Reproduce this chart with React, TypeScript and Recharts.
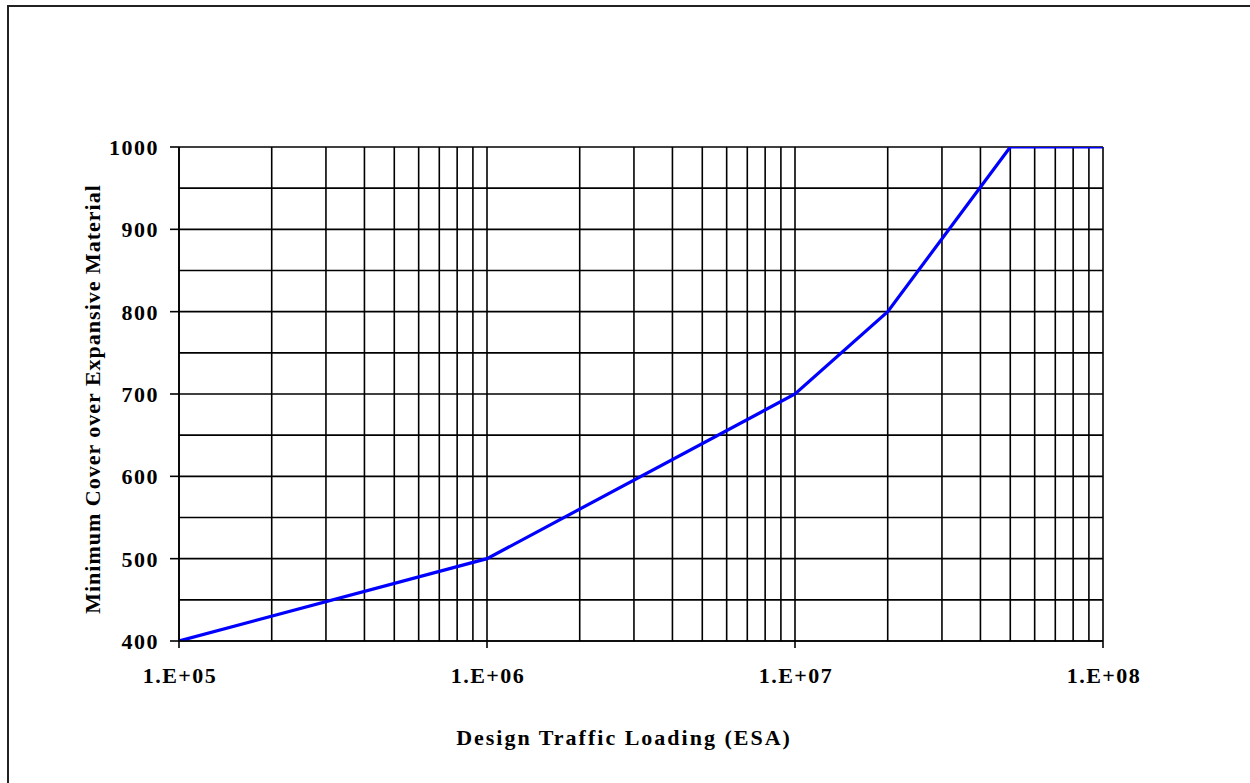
import React from 'react';
import { ComposedChart, Line, XAxis, YAxis, CartesianGrid, Label } from 'recharts';

// Design traffic loading (ESA) break points and the required minimum cover (mm)
const esaValues = [1e5, 1e6, 1e7, 2e7, 5e7, 1e8];
const coverValues = [400, 500, 700, 800, 1000, 1000];

// Log grid: 1..9 x each decade, labelled only at the decades
const xGridTicks = [
  1e5, 2e5, 3e5, 4e5, 5e5, 6e5, 7e5, 8e5, 9e5,
  1e6, 2e6, 3e6, 4e6, 5e6, 6e6, 7e6, 8e6, 9e6,
  1e7, 2e7, 3e7, 4e7, 5e7, 6e7, 7e7, 8e7, 9e7,
  1e8,
];
const xDecadeLabels: Record<number, string> = {
  100000: '1.E+05',
  1000000: '1.E+06',
  10000000: '1.E+07',
  100000000: '1.E+08',
};
const yGridTicks = [400, 450, 500, 550, 600, 650, 700, 750, 800, 850, 900, 950, 1000];
const yLabelledTicks = [400, 500, 600, 700, 800, 900, 1000];

const data = esaValues.map((esa, i) => ({ esa, cover: coverValues[i] }));

const FONT = '"Liberation Serif", "Times New Roman", serif';

const XTick = (props: any) => {
  const { x, y, payload } = props;
  const label = xDecadeLabels[Math.round(payload.value)];
  if (!label) return <g />;
  return (
    <g>
      <line x1={x} y1={y} x2={x} y2={y + 7} stroke="#000" strokeWidth={1.6} />
      <text
        x={x + 1}
        y={y + 42}
        textAnchor="middle"
        fontFamily={FONT}
        fontWeight="bold"
        fontSize={22}
        letterSpacing={1.5}
        fill="#000"
      >
        {label}
      </text>
    </g>
  );
};

const YTick = (props: any) => {
  const { x, y, payload } = props;
  if (!yLabelledTicks.includes(payload.value)) return <g />;
  return (
    <g>
      <line x1={x - 9} y1={y} x2={x} y2={y} stroke="#000" strokeWidth={1.6} />
      <text
        x={x - 20}
        y={y + 8}
        textAnchor="end"
        fontFamily={FONT}
        fontWeight="bold"
        fontSize={22}
        letterSpacing={1.5}
        fill="#000"
      >
        {payload.value}
      </text>
    </g>
  );
};

export default function App() {
  return (
    <div
      style={{
        position: 'fixed',
        left: 0,
        top: 0,
        width: 1250,
        height: 783,
        background: '#fff',
        overflow: 'hidden',
      }}
    >
      <div
        style={{
          position: 'absolute',
          left: 7,
          top: 5,
          width: 1260,
          height: 800,
          borderLeft: '2px solid #222',
          borderTop: '2px solid #222',
        }}
      />
      <ComposedChart
        width={1250}
        height={783}
        data={data}
        margin={{ top: 147, right: 147, bottom: 82, left: 79 }}
        style={{ position: 'absolute', left: 0, top: 0 }}
      >
        <CartesianGrid stroke="#000" strokeWidth={1.6} />
        <XAxis
          dataKey="esa"
          type="number"
          scale="log"
          domain={[1e5, 1e8]}
          ticks={xGridTicks}
          interval={0}
          allowDataOverflow
          tickSize={0}
          tickMargin={0}
          tickLine={false}
          axisLine={{ stroke: '#000', strokeWidth: 1.6 }}
          tick={<XTick />}
          height={60}
        >
          <Label
            content={(p: any) => {
              const vb = p.viewBox;
              return (
                <text
                  x={vb.x + vb.width / 2 - 17}
                  y={vb.y + 104}
                  textAnchor="middle"
                  fontFamily={FONT}
                  fontWeight="bold"
                  fontSize={22}
                  letterSpacing={2}
                  fill="#000"
                >
                  Design Traffic Loading (ESA)
                </text>
              );
            }}
          />
        </XAxis>
        <YAxis
          type="number"
          domain={[400, 1000]}
          ticks={yGridTicks}
          interval={0}
          allowDataOverflow
          tickSize={0}
          tickMargin={0}
          tickLine={false}
          axisLine={{ stroke: '#000', strokeWidth: 1.6 }}
          tick={<YTick />}
          width={100}
        >
          <Label
            content={(p: any) => {
              const vb = p.viewBox;
              const cx = vb.x + 13;
              const cy = vb.y + vb.height / 2 + 5;
              return (
                <text
                  x={cx}
                  y={cy}
                  transform={`rotate(-90, ${cx}, ${cy})`}
                  textAnchor="middle"
                  dominantBaseline="central"
                  fontFamily={FONT}
                  fontWeight="bold"
                  fontSize={22}
                  letterSpacing={1}
                  fill="#000"
                >
                  Minimum Cover over Expansive Material
                </text>
              );
            }}
          />
        </YAxis>
        <Line
          type="linear"
          dataKey="cover"
          stroke="#0000ff"
          strokeWidth={3.2}
          dot={false}
          isAnimationActive={false}
        />
      </ComposedChart>
    </div>
  );
}
